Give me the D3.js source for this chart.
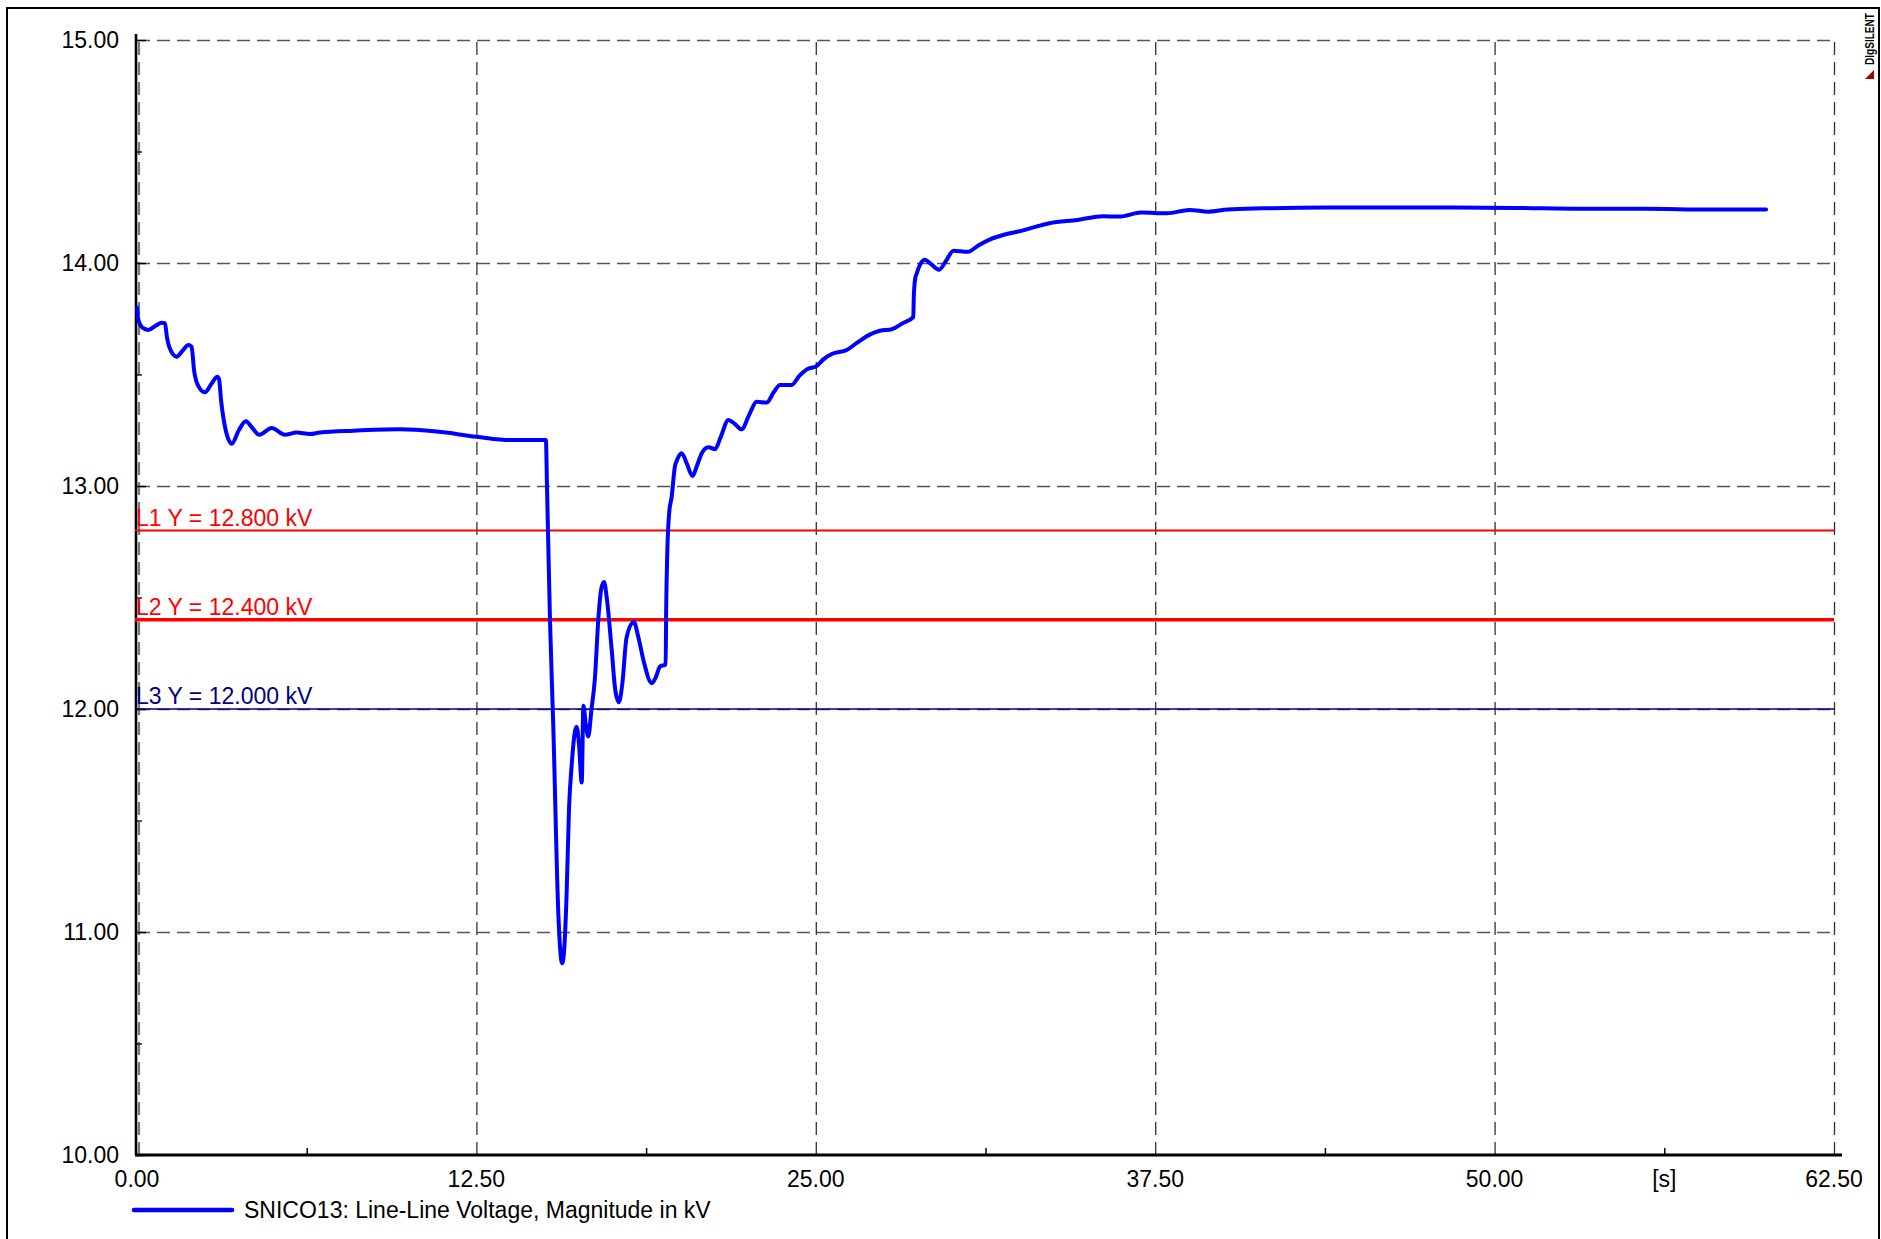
<!DOCTYPE html>
<html>
<head>
<meta charset="utf-8">
<script src="https://cdn.jsdelivr.net/npm/d3@7"></script>
<style>
  html, body { margin: 0; padding: 0; background: #fff; }
  svg { display: block; }
  text { font-family: "Liberation Sans", Arial, sans-serif; }
</style>
</head>
<body>
<svg id="chart" width="1881" height="1239"></svg>
<script>
// ---------------- data ----------------
const timeS = [
  0.00, 0.05, 0.20, 0.42, 0.70, 0.91, 1.03, 1.10, 1.20, 1.46, 1.70, 1.89, 2.01, 2.10, 2.25, 2.50,
  2.75, 2.96, 3.02, 3.10, 3.25, 3.49, 3.75, 4.01, 4.25, 4.50, 4.96, 5.45, 5.88, 6.37, 6.74, 7.97,
  9.69, 11.04, 12.51, 13.74, 15.06, 15.10, 15.21, 15.33, 15.52, 15.60, 15.66, 15.72, 15.82, 15.91,
  16.01, 16.13, 16.19, 16.28, 16.38, 16.44, 16.53, 16.62, 16.74, 16.86, 17.00, 17.10, 17.20, 17.30,
  17.48, 17.62, 17.75, 17.88, 18.03, 18.30, 18.45, 18.65, 18.96, 19.10, 19.26, 19.47, 19.49, 19.53,
  19.60, 19.69, 19.81, 19.90, 20.06, 20.25, 20.46, 20.62, 20.80, 21.04, 21.29, 21.50, 21.78, 22.00,
  22.27, 22.55, 22.82, 23.19, 23.45, 23.68, 24.11, 24.40, 24.67, 25.04, 25.30, 25.59, 26.14, 26.55,
  27.00, 27.36, 27.80, 28.20, 28.59, 28.61, 28.66, 28.72, 28.85, 29.02, 29.20, 29.54, 29.80, 30.07,
  30.60, 31.00, 31.40, 32.03, 32.60, 33.20, 33.60, 34.64, 35.58, 36.17, 36.99, 37.93, 38.76, 39.46,
  40.17, 41.46, 43.81, 46.15, 48.50, 50.85, 53.20, 55.55, 57.90, 60.00
];
const voltageKV = [
  13.800, 13.745, 13.710, 13.700, 13.720, 13.732, 13.730, 13.670, 13.620, 13.580, 13.610, 13.632, 13.625, 13.520, 13.450, 13.420,
  13.460, 13.490, 13.480, 13.380, 13.260, 13.190, 13.250, 13.290, 13.260, 13.230, 13.260, 13.230, 13.240, 13.233, 13.240, 13.248,
  13.254, 13.244, 13.221, 13.206, 13.206, 13.000, 12.400, 11.930, 11.075, 10.900, 10.860, 10.900, 11.160, 11.550,
  11.750, 11.900, 11.920, 11.840, 11.670, 12.015, 11.930, 11.877, 12.000, 12.130, 12.420, 12.540, 12.570, 12.500,
  12.270, 12.080, 12.030, 12.120, 12.320, 12.390, 12.330, 12.220, 12.116, 12.140, 12.190, 12.200, 12.450, 12.700,
  12.880, 12.950, 13.087, 13.120, 13.147, 13.100, 13.045, 13.090, 13.147, 13.174, 13.165, 13.220, 13.296, 13.280,
  13.254, 13.320, 13.378, 13.374, 13.420, 13.453, 13.453, 13.495, 13.523, 13.539, 13.570, 13.592, 13.610, 13.645,
  13.680, 13.696, 13.703, 13.730, 13.757, 13.850, 13.930, 13.954, 13.995, 14.015, 14.000, 13.970, 14.010, 14.055,
  14.050, 14.080, 14.105, 14.130, 14.145, 14.166, 14.178, 14.193, 14.210, 14.208, 14.226, 14.223, 14.238, 14.230,
  14.240, 14.245, 14.249, 14.249, 14.249, 14.247, 14.243, 14.243, 14.240, 14.240
];

const xTickValues = [0, 12.5, 25, 37.5, 50, 56.25, 62.5];
const xTickLabels = ["0.00", "12.50", "25.00", "37.50", "50.00", "[s]", "62.50"];
const xMinorTicks = [6.25, 18.75, 31.25, 43.75, 56.25];
const yTickValues = [10, 11, 12, 13, 14, 15];
const yTickLabels = ["10.00", "11.00", "12.00", "13.00", "14.00", "15.00"];
const yMinorTicks = [10.5, 11.5, 12.5, 13.5, 14.5];

const refNames = ["L1", "L2", "L3"];
const refValues = [12.8, 12.4, 12.0];
const refLabels = ["L1 Y = 12.800 kV", "L2 Y = 12.400 kV", "L3 Y = 12.000 kV"];
const refColors = ["#ff0000", "#ff0000", "#000080"];
const refWidths = [2, 3.5, 1.5];

const legendLabel = "SNICO13: Line-Line Voltage, Magnitude in kV";
const seriesColor = "#0000ff";

// ---------------- layout ----------------
const svg = d3.select("#chart");
const X0 = 137, X1 = 1834, Y0 = 40, Y1 = 1155;
const x = d3.scaleLinear().domain([0, 62.5]).range([X0, X1]);
const y = d3.scaleLinear().domain([10, 15]).range([Y1, Y0]);

svg.append("rect").attr("width", 1881).attr("height", 1239).attr("fill", "#fff");
// outer frame
svg.append("rect").attr("x", 7).attr("y", 8).attr("width", 1872).attr("height", 1260)
  .attr("fill", "none").attr("stroke", "#000").attr("stroke-width", 2);

// grid (dashed) via axes
const gridDash = "13,7";
const yGrid = svg.append("g").attr("transform", `translate(${X0},0)`)
  .call(d3.axisLeft(y).tickValues([11, 12, 13, 14, 15]).tickSize(-(X1 - X0)).tickFormat(""));
yGrid.select(".domain").remove();
yGrid.selectAll("line").attr("stroke", "#555").attr("stroke-width", 1.4).attr("stroke-dasharray", gridDash);

const xGrid = svg.append("g").attr("transform", `translate(0,${Y1})`)
  .call(d3.axisBottom(x).tickValues([0, 12.5, 25, 37.5, 50, 62.5]).tickSize(-(Y1 - Y0)).tickFormat(""));
xGrid.select(".domain").remove();
xGrid.selectAll("line").attr("stroke", "#333").attr("stroke-width", 1.3).attr("stroke-dasharray", gridDash)
  .attr("transform", d => d === 0 ? "translate(1.5,0)" : null);
xGrid.selectAll("line").filter(d => d === 0).attr("stroke", "#777").attr("stroke-width", 2.2);

// y axis
const yAxis = svg.append("g").attr("transform", `translate(${X0 - 1},0)`)
  .call(d3.axisRight(y).tickValues(yTickValues).tickSize(10).tickFormat(""));
yAxis.select(".domain").attr("d", `M0,${Y0 - 6}V${Y1}`).attr("stroke", "#000").attr("stroke-width", 2.6);
yAxis.selectAll("line").attr("stroke", "#000").attr("stroke-width", 1.5);
const yMinor = svg.append("g").attr("transform", `translate(${X0 - 1},0)`)
  .call(d3.axisRight(y).tickValues(yMinorTicks).tickSize(6).tickFormat(""));
yMinor.select(".domain").remove();
yMinor.selectAll("line").attr("stroke", "#000").attr("stroke-width", 1.3);

svg.append("g").selectAll("text").data(yTickValues).join("text")
  .attr("x", 119).attr("y", d => y(d)).attr("dy", "0.36em")
  .attr("text-anchor", "end").attr("font-size", 23).attr("fill", "#000")
  .text((d, i) => yTickLabels[i]);

// x axis
const xAxis = svg.append("g").attr("transform", `translate(0,${Y1})`)
  .call(d3.axisTop(x).tickValues(xMinorTicks).tickSize(7).tickFormat(""));
xAxis.select(".domain").attr("d", `M${X0 - 2},0H${X1 + 8}`).attr("stroke", "#000").attr("stroke-width", 3);
xAxis.selectAll("line").attr("stroke", "#000").attr("stroke-width", 1.5);

svg.append("g").selectAll("text").data(xTickValues).join("text")
  .attr("x", d => x(d)).attr("y", 1187)
  .attr("text-anchor", "middle").attr("font-size", 23).attr("fill", "#000")
  .text((d, i) => xTickLabels[i]);

// reference lines
refValues.forEach((v, i) => {
  svg.append("line").attr("x1", X0 - 2).attr("x2", X1).attr("y1", y(v)).attr("y2", y(v))
    .attr("stroke", refColors[i]).attr("stroke-width", refWidths[i]);
  svg.append("text").attr("x", X0 - 1).attr("y", y(v) - 5)
    .attr("font-size", 23).attr("fill", refColors[i]).text(refLabels[i]);
});

// series
const pts = timeS.map((t, i) => [t, voltageKV[i]]);
const line = d3.line().x(d => x(d[0])).y(d => y(d[1])).curve(d3.curveMonotoneX);
svg.append("path").datum(pts).attr("d", line)
  .attr("fill", "none").attr("stroke", seriesColor).attr("stroke-width", 4)
  .attr("stroke-linejoin", "round").attr("stroke-linecap", "round");

// legend
svg.append("line").attr("x1", 134).attr("x2", 232).attr("y1", 1210).attr("y2", 1210)
  .attr("stroke", seriesColor).attr("stroke-width", 4.5).attr("stroke-linecap", "round");
svg.append("text").attr("x", 244).attr("y", 1218).attr("font-size", 23).attr("fill", "#000").text(legendLabel);

// logo
svg.append("text").attr("transform", "translate(1874,65) rotate(-90)")
  .attr("font-size", 12).attr("font-weight", "bold").attr("fill", "#000")
  .attr("textLength", 52).attr("lengthAdjust", "spacingAndGlyphs").text("DIgSILENT");
svg.append("path").attr("d", "M1865,79L1874,70L1874,79Z").attr("fill", "#a00000");
</script>
</body>
</html>
